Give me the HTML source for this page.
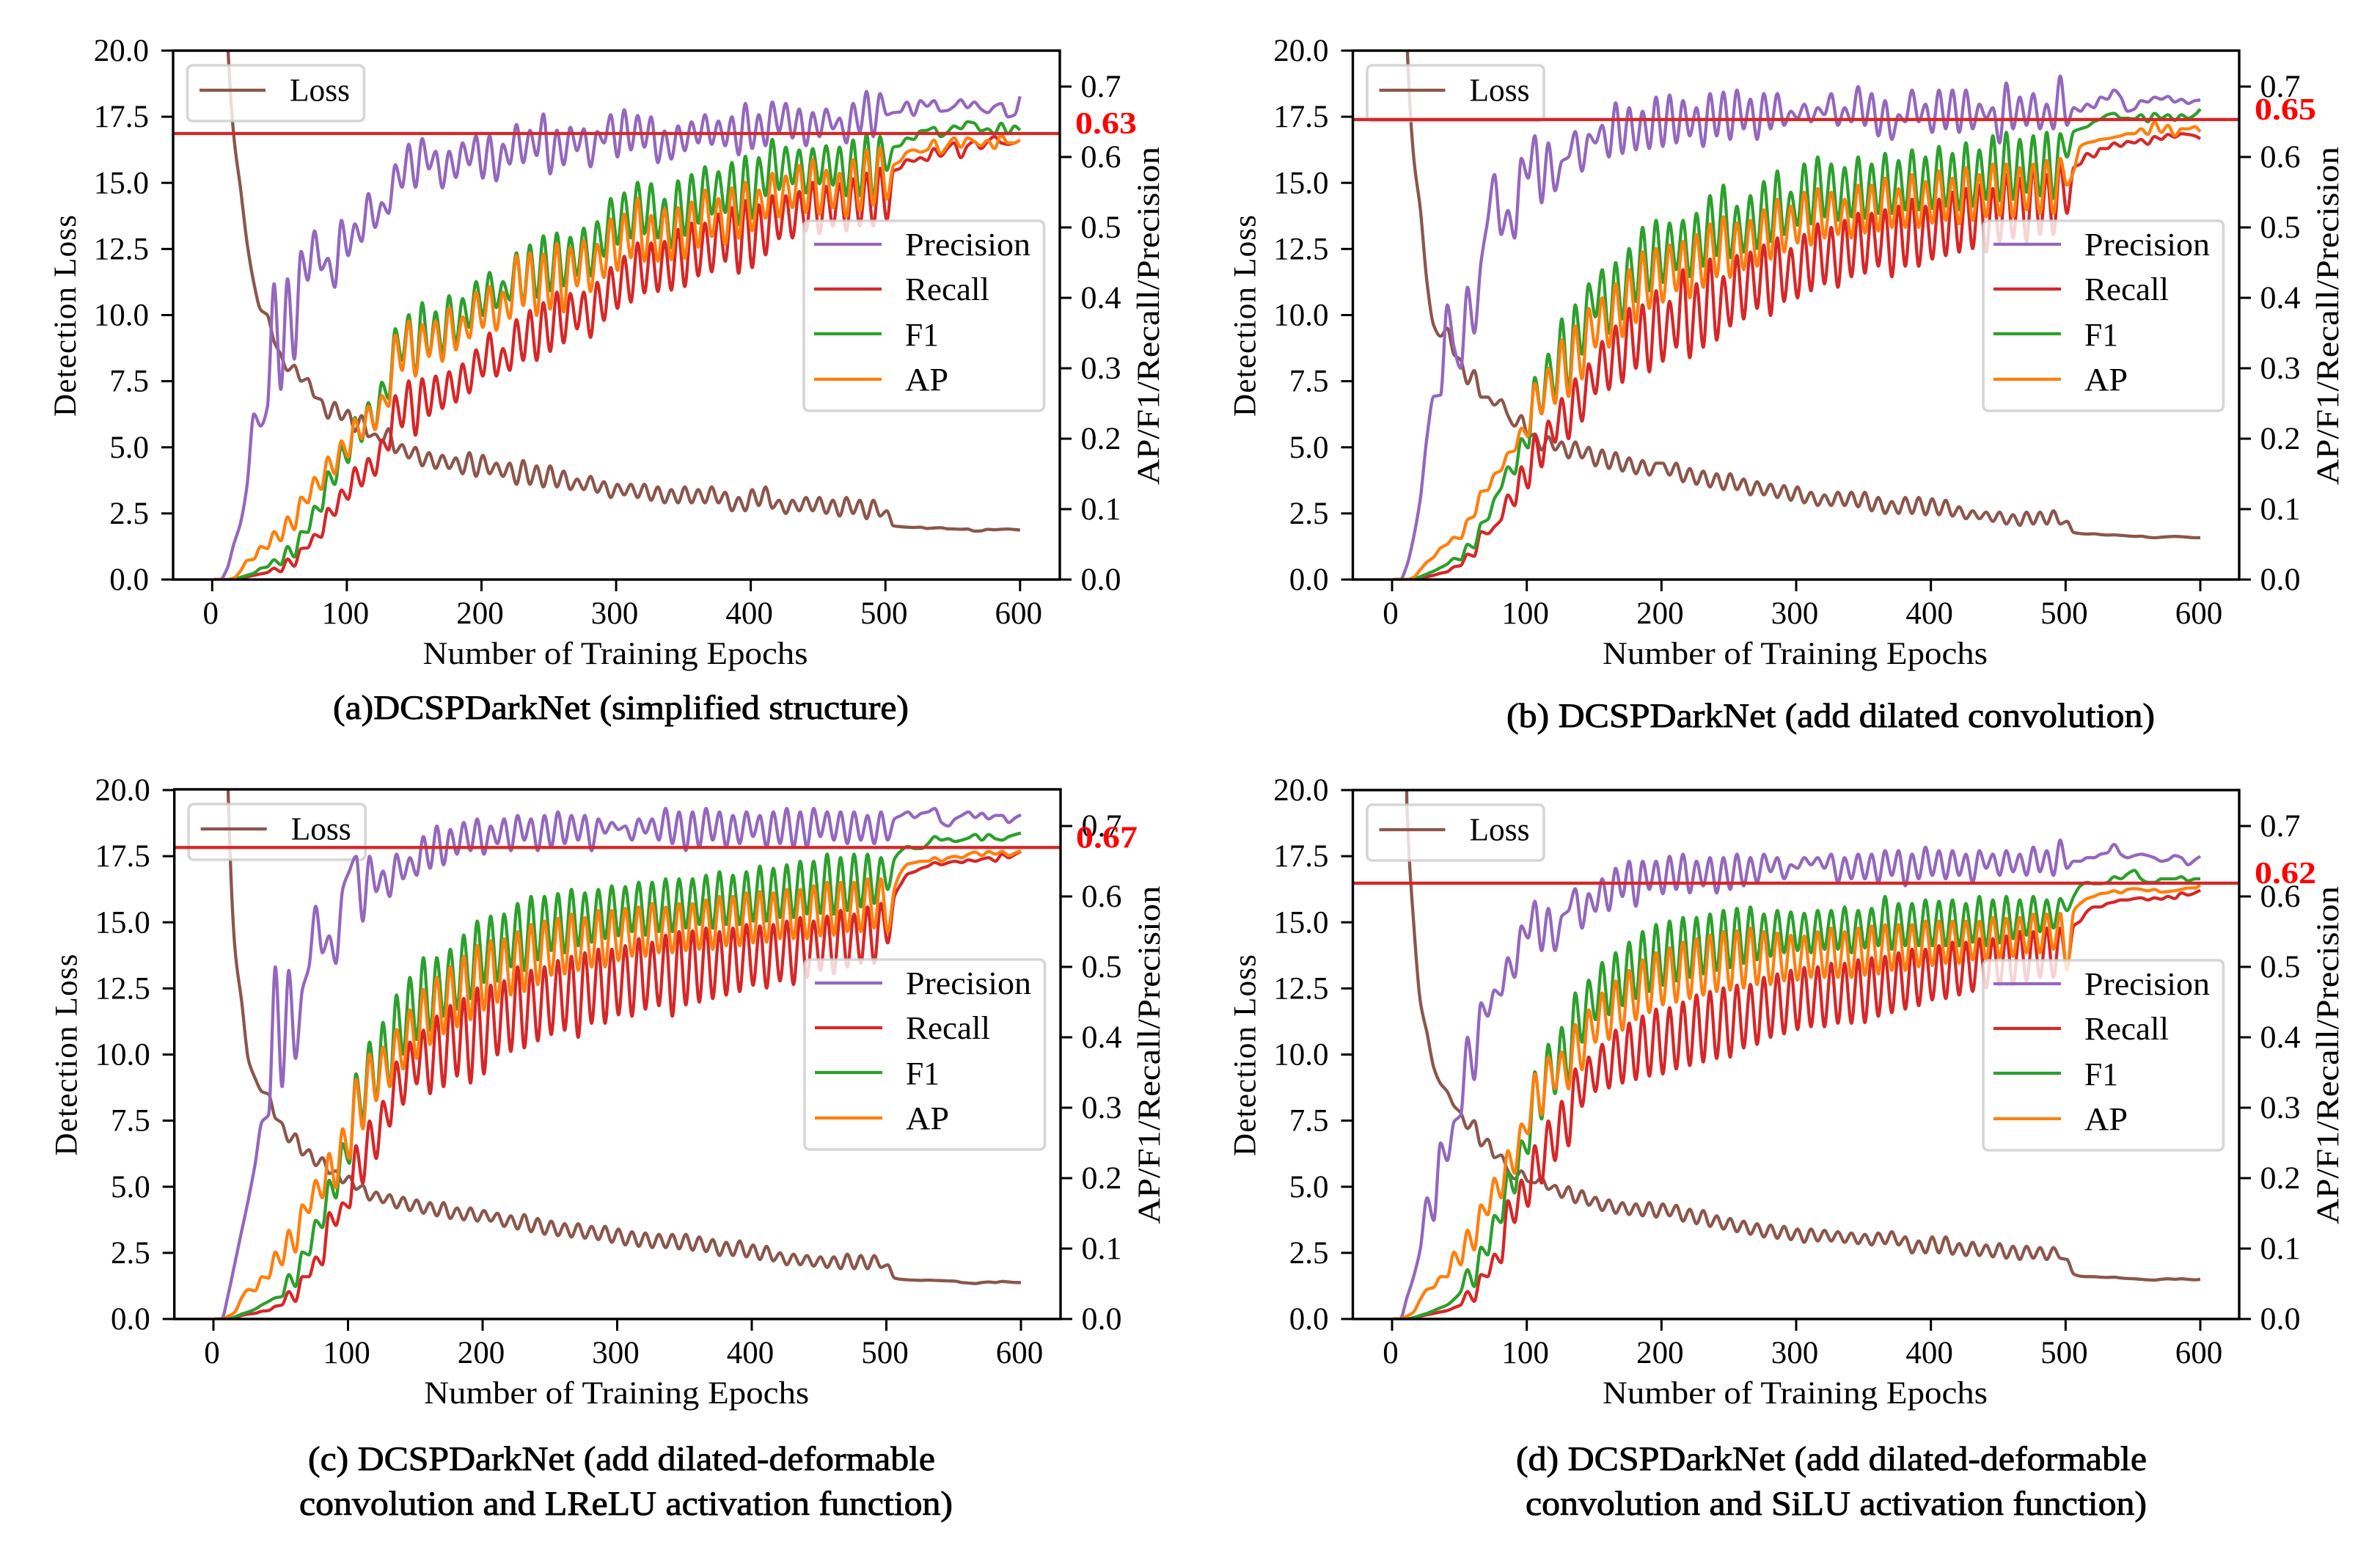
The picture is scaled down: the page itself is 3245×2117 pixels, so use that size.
<!DOCTYPE html>
<html lang="en">
<head>
<meta charset="utf-8">
<title>DCSPDarkNet training curves</title>
<style>
html,body{margin:0;padding:0;background:#fff;width:3245px;height:2117px;overflow:hidden}
svg{display:block}
text{font-family:"Liberation Serif","DejaVu Serif",serif;fill:#000}
</style>
</head>
<body>
<svg id="figure" xmlns="http://www.w3.org/2000/svg" width="3245" height="2117" viewBox="0 0 3245 2117"></svg>
<script>
// Tick labels
const xTicks=[0,100,200,300,400,500,600];
const lossTicks=[0,2.5,5,7.5,10,12.5,15,17.5,20];
const metricTicks=[0,.1,.2,.3,.4,.5,.6,.7];
const metricNames=['Precision','Recall','F1','AP'];

// Panel (a) — sampled at epochs 1,6,11,…,596,600
const precisionA=[0,0,.015,.05,.08,.135,.235,.218,.245,.42,
.27,.427,.313,.466,.425,.495,.44,.456,.415,.51,
.46,.505,.48,.548,.5,.535,.52,.589,.557,.618,
.557,.626,.583,.608,.556,.608,.571,.62,.589,.63,
.57,.63,.566,.618,.59,.646,.592,.638,.602,.661,
.576,.638,.589,.642,.609,.64,.586,.636,.62,.66,
.6,.667,.61,.659,.614,.657,.592,.637,.597,.644,
.609,.65,.62,.66,.618,.651,.616,.657,.603,.676,
.612,.66,.616,.678,.636,.676,.627,.668,.616,.663,
.629,.668,.64,.655,.62,.676,.636,.693,.629,.69,
.66,.663,.664,.678,.659,.68,.672,.68,.665,.666,
.672,.681,.67,.678,.668,.663,.672,.676,.657,.66,
.686];
const recallA=[0,0,0,0,.002,.004,.006,.008,.01,.016,
.011,.029,.019,.044,.045,.064,.06,.101,.091,.127,
.114,.159,.133,.172,.148,.198,.184,.261,.217,.282,
.205,.285,.233,.289,.243,.295,.252,.306,.265,.326,
.289,.35,.289,.328,.297,.369,.311,.382,.311,.393,
.324,.408,.336,.406,.356,.408,.344,.422,.368,.443,
.385,.459,.394,.478,.407,.478,.409,.48,.411,.497,
.416,.506,.431,.506,.437,.519,.452,.528,.435,.538,
.443,.532,.461,.545,.484,.545,.485,.551,.495,.564,
.491,.558,.502,.562,.495,.569,.502,.577,.502,.584,
.51,.58,.584,.596,.594,.599,.595,.612,.601,.612,
.62,.599,.616,.622,.612,.622,.629,.62,.618,.62,
.624];
const f1A=[0,0,0,0,.003,.006,.009,.016,.018,.028,
.021,.047,.032,.068,.067,.104,.097,.153,.135,.189,
.166,.23,.196,.251,.213,.28,.257,.356,.311,.376,
.291,.393,.317,.38,.322,.403,.336,.399,.358,.423,
.375,.436,.386,.423,.397,.464,.393,.475,.401,.488,
.41,.492,.417,.486,.432,.499,.431,.508,.459,.541,
.476,.549,.485,.564,.491,.562,.485,.54,.471,.566,
.489,.575,.506,.586,.519,.579,.521,.592,.504,.601,
.513,.599,.545,.625,.554,.614,.562,.61,.549,.612,
.562,.616,.56,.614,.545,.624,.545,.633,.541,.629,
.581,.614,.616,.627,.625,.637,.638,.642,.629,.635,
.644,.64,.65,.648,.637,.64,.633,.648,.633,.644,
.638];
const apA=[0,0,0,.002,.012,.027,.029,.047,.044,.068,
.055,.089,.071,.117,.109,.145,.128,.174,.15,.197,
.174,.228,.2,.246,.213,.261,.246,.347,.297,.367,
.289,.362,.317,.367,.31,.386,.326,.373,.343,.408,
.358,.416,.354,.408,.371,.46,.389,.464,.375,.462,
.384,.477,.38,.471,.417,.481,.409,.476,.429,.512,
.439,.519,.457,.541,.452,.517,.452,.526,.454,.528,
.456,.536,.472,.553,.487,.541,.476,.556,.485,.564,
.495,.553,.513,.577,.515,.573,.528,.588,.521,.596,
.519,.581,.528,.577,.515,.596,.523,.61,.532,.613,
.54,.588,.594,.607,.61,.607,.61,.624,.605,.616,
.627,.614,.627,.622,.616,.624,.612,.631,.62,.62,
.624];
const lossA=[60,38,21,16.8,14.8,12.7,11.2,10.2,10,9,
8.5,7.9,8.1,7.5,7.6,6.9,6.8,6.1,6.7,6.05,
6.4,5.6,6.2,5.4,5.5,5.2,5.7,4.8,5.1,4.6,
5,4.3,4.8,4.2,4.7,4.2,4.6,4,4.8,3.9,
4.7,4,4.4,3.9,4.4,3.6,4.5,3.6,4.3,3.5,
4.3,3.5,4.1,3.4,3.8,3.4,3.9,3.3,3.7,3.1,
3.6,3.2,3.6,3.1,3.6,3,3.5,2.9,3.4,2.9,
3.5,2.9,3.4,2.9,3.5,2.9,3.3,2.6,3.1,2.6,
3.4,2.8,3.5,2.7,3,2.5,3,2.6,3.1,2.6,
3.1,2.5,3,2.4,3.1,2.5,3,2.3,3,2.4,
2.6,2.03,2,1.98,1.97,1.98,1.93,1.95,1.96,1.92,
1.91,1.9,1.91,1.83,1.84,1.9,1.88,1.9,1.91,1.89,
1.87];

// Panel (b)
const precisionB=[0,0,.02,.06,.115,.204,.26,.262,.39,.33,
.3,.415,.35,.45,.51,.575,.49,.524,.485,.598,
.57,.63,.535,.62,.552,.594,.6,.636,.58,.632,
.62,.645,.6,.677,.605,.67,.61,.665,.612,.685,
.615,.688,.62,.68,.63,.67,.615,.69,.63,.692,
.625,.695,.64,.682,.625,.69,.64,.69,.645,.665,
.655,.675,.65,.67,.66,.69,.645,.67,.65,.7,
.645,.69,.63,.68,.625,.66,.65,.695,.65,.675,
.635,.695,.64,.695,.635,.695,.64,.675,.655,.67,
.62,.705,.64,.685,.645,.69,.64,.675,.64,.715,
.645,.67,.665,.675,.67,.685,.682,.695,.685,.665,
.668,.68,.678,.685,.682,.686,.678,.682,.676,.68,
.681];
const recallB=[0,0,0,0,.002,.004,.006,.009,.011,.018,
.02,.036,.033,.068,.065,.075,.085,.12,.105,.16,
.13,.205,.16,.225,.195,.257,.2,.285,.225,.306,
.264,.338,.27,.36,.28,.385,.3,.39,.295,.41,
.31,.395,.33,.44,.315,.42,.33,.455,.34,.43,
.36,.46,.37,.465,.385,.475,.375,.485,.395,.47,
.4,.49,.41,.505,.42,.5,.415,.51,.43,.52,
.435,.52,.445,.525,.43,.53,.445,.54,.445,.53,
.455,.54,.46,.55,.465,.555,.47,.56,.465,.555,
.48,.575,.485,.57,.48,.585,.49,.575,.49,.59,
.52,.585,.59,.605,.6,.612,.612,.62,.615,.622,
.62,.625,.618,.629,.625,.632,.628,.633,.632,.63,
.626];
const f1B=[0,0,0,.001,.004,.008,.012,.017,.022,.03,
.028,.05,.045,.08,.085,.115,.13,.16,.15,.2,
.187,.287,.236,.32,.26,.37,.27,.39,.32,.42,
.373,.44,.35,.45,.37,.47,.395,.5,.41,.51,
.422,.506,.44,.51,.43,.52,.445,.545,.46,.56,
.457,.53,.465,.545,.47,.565,.48,.58,.49,.55,
.503,.59,.505,.6,.515,.59,.51,.585,.515,.6,
.513,.59,.52,.605,.52,.595,.525,.61,.525,.6,
.527,.615,.53,.605,.525,.62,.53,.61,.54,.63,
.538,.635,.54,.625,.55,.63,.545,.635,.541,.633,
.6,.636,.64,.643,.65,.654,.66,.662,.655,.655,
.654,.66,.65,.662,.655,.66,.652,.66,.655,.66,
.668];
const apB=[0,0,0,.003,.014,.025,.032,.045,.05,.06,
.058,.085,.09,.125,.127,.15,.155,.18,.183,.215,
.204,.278,.235,.3,.25,.34,.26,.36,.285,.385,
.33,.4,.33,.42,.345,.44,.365,.465,.385,.47,
.394,.475,.41,.48,.4,.49,.415,.505,.43,.515,
.429,.506,.44,.51,.445,.525,.455,.54,.465,.53,
.478,.55,.475,.555,.485,.55,.49,.54,.485,.56,
.492,.56,.495,.57,.5,.555,.5,.575,.5,.565,
.506,.58,.51,.57,.505,.585,.51,.575,.515,.59,
.517,.59,.515,.585,.525,.59,.52,.595,.52,.598,
.56,.58,.615,.62,.622,.625,.626,.628,.63,.633,
.633,.64,.632,.65,.635,.645,.63,.64,.64,.643,
.636];
const lossB=[60,38,20.5,16,14,11.2,9.6,9.2,9.5,8.5,
8.3,7.4,7.9,6.9,6.9,6.6,6.8,6.2,5.8,6.2,
5.4,5.5,4.9,5.4,4.9,5.2,4.6,5.2,4.6,5,
4.3,4.9,4.2,4.8,4.1,4.6,4,4.5,3.95,4.4,
4.4,3.95,4.4,3.7,4.2,3.6,4.1,3.5,4,3.4,
4,3.4,3.8,3.2,3.7,3.2,3.6,3.1,3.55,3,
3.5,2.9,3.3,2.8,3.2,2.8,3.3,2.8,3.3,2.75,
3.3,2.6,3.1,2.5,2.95,2.5,3.1,2.5,3.1,2.45,
3.05,2.45,3,2.4,2.75,2.3,2.6,2.3,2.55,2.2,
2.55,2.1,2.45,2.05,2.55,2.1,2.55,2.1,2.6,2.1,
2.2,1.78,1.74,1.72,1.73,1.7,1.68,1.69,1.67,1.65,
1.63,1.64,1.6,1.58,1.6,1.62,1.63,1.62,1.6,1.58,
1.58];

// Panel (c)
const precisionC=[0,0,.035,.08,.125,.17,.22,.28,.29,.5,
.33,.495,.37,.467,.5,.586,.52,.544,.505,.61,
.636,.657,.565,.657,.607,.636,.6,.66,.625,.655,
.63,.685,.64,.7,.645,.695,.66,.705,.665,.71,
.66,.7,.675,.71,.665,.715,.68,.71,.665,.715,
.67,.72,.675,.715,.68,.715,.665,.71,.69,.705,
.695,.7,.68,.71,.69,.71,.68,.725,.675,.72,
.665,.72,.67,.725,.68,.72,.67,.715,.675,.72,
.685,.715,.67,.72,.675,.725,.67,.72,.67,.725,
.685,.72,.68,.72,.675,.72,.68,.715,.675,.72,
.68,.71,.715,.72,.712,.718,.72,.725,.705,.7,
.71,.715,.72,.712,.718,.71,.715,.715,.705,.712,
.716];
const recallC=[0,0,0,.002,.005,.007,.008,.011,.012,.018,
.02,.039,.025,.06,.06,.088,.077,.151,.133,.165,
.158,.246,.193,.281,.228,.309,.274,.365,.305,.393,
.334,.41,.32,.43,.33,.445,.345,.455,.335,.47,
.348,.474,.375,.48,.38,.5,.385,.495,.395,.5,
.404,.509,.41,.515,.4,.52,.42,.525,.42,.525,
.432,.53,.43,.54,.44,.535,.445,.545,.43,.55,
.446,.551,.45,.555,.455,.55,.46,.555,.465,.56,
.474,.558,.47,.56,.48,.565,.475,.57,.485,.565,
.495,.572,.49,.58,.5,.575,.505,.585,.505,.59,
.534,.6,.618,.632,.635,.64,.643,.648,.645,.648,
.65,.648,.652,.65,.653,.655,.65,.66,.655,.66,
.664];
const f1C=[0,0,0,.003,.007,.01,.014,.02,.025,.03,
.032,.063,.046,.095,.091,.14,.13,.197,.172,.249,
.221,.348,.284,.393,.313,.421,.33,.46,.376,.485,
.397,.513,.41,.513,.43,.525,.44,.545,.455,.565,
.478,.572,.48,.575,.5,.59,.495,.6,.51,.6,
.523,.604,.52,.61,.53,.605,.535,.61,.54,.615,
.544,.614,.55,.62,.545,.62,.55,.625,.55,.625,
.555,.625,.56,.63,.555,.635,.56,.63,.56,.635,
.565,.643,.565,.64,.57,.645,.57,.65,.575,.65,
.576,.66,.575,.655,.58,.66,.585,.66,.59,.655,
.61,.653,.665,.671,.668,.668,.675,.685,.68,.682,
.678,.68,.683,.688,.68,.688,.682,.68,.685,.688,
.69];
const apC=[0,0,.004,.01,.03,.042,.04,.06,.058,.095,
.077,.126,.095,.162,.151,.197,.172,.235,.186,.27,
.228,.34,.27,.376,.31,.386,.33,.411,.355,.439,
.37,.468,.39,.485,.405,.5,.415,.515,.425,.53,
.439,.537,.45,.54,.46,.55,.465,.56,.475,.565,
.488,.569,.49,.575,.495,.57,.5,.58,.5,.58,
.509,.583,.515,.585,.515,.59,.52,.585,.52,.59,
.523,.59,.525,.595,.525,.6,.53,.6,.53,.605,
.534,.607,.535,.605,.54,.61,.54,.61,.54,.615,
.544,.62,.545,.62,.55,.62,.55,.625,.555,.625,
.55,.611,.635,.646,.648,.65,.65,.655,.65,.655,
.657,.655,.66,.663,.658,.664,.66,.664,.658,.662,
.665];
const lossC=[60,36,19.8,14,12,9.8,9.1,8.6,8.5,7.6,
7.4,6.7,7,6.2,6.4,5.8,6.1,5.5,5.6,5.15,
5.4,4.9,5.05,4.5,4.8,4.4,4.7,4.2,4.6,4.1,
4.5,4,4.4,3.9,4.4,3.8,4.2,3.75,4.2,3.7,
4.1,3.7,4,3.5,3.9,3.4,3.95,3.3,3.8,3.2,
3.7,3.15,3.6,3.1,3.6,3.05,3.5,3,3.5,2.9,
3.4,2.8,3.3,2.75,3.25,2.7,3.2,2.7,3.2,2.65,
3.2,2.6,3.1,2.55,3,2.4,2.9,2.4,2.95,2.35,
2.8,2.25,2.75,2.2,2.5,2.05,2.45,2.05,2.4,2,
2.35,1.95,2.35,1.9,2.45,1.9,2.4,1.9,2.4,1.95,
2.05,1.55,1.5,1.48,1.47,1.46,1.47,1.46,1.45,1.44,
1.43,1.38,1.36,1.34,1.38,1.4,1.38,1.42,1.4,1.38,
1.38];

// Panel (d)
const precisionD=[0,0,.03,.06,.1,.172,.14,.25,.225,.28,
.29,.4,.34,.449,.43,.467,.46,.513,.485,.558,
.541,.593,.523,.583,.523,.572,.58,.611,.555,.604,
.579,.625,.58,.64,.6,.65,.586,.65,.61,.65,
.604,.657,.61,.66,.605,.65,.615,.655,.605,.655,
.61,.66,.615,.655,.62,.66,.635,.655,.625,.645,
.64,.655,.645,.655,.64,.66,.62,.655,.625,.66,
.625,.66,.62,.665,.63,.665,.615,.66,.625,.67,
.63,.665,.625,.665,.63,.66,.62,.665,.64,.66,
.63,.665,.635,.66,.63,.67,.635,.665,.63,.68,
.64,.65,.65,.655,.655,.66,.662,.674,.66,.655,
.658,.66,.658,.655,.65,.652,.658,.655,.645,.652,
.657];
const recallD=[0,0,0,.002,.004,.006,.008,.01,.012,.016,
.02,.039,.025,.063,.06,.092,.08,.168,.137,.197,
.16,.246,.193,.281,.225,.309,.246,.355,.302,.372,
.323,.39,.328,.41,.335,.42,.34,.43,.345,.44,
.348,.442,.355,.45,.36,.46,.365,.465,.37,.47,
.372,.474,.385,.475,.39,.485,.4,.49,.405,.495,
.411,.499,.415,.5,.415,.505,.42,.505,.42,.51,
.421,.513,.43,.515,.435,.52,.44,.525,.445,.525,
.453,.53,.455,.535,.46,.535,.465,.54,.47,.54,
.474,.544,.475,.55,.48,.55,.485,.555,.485,.555,
.5,.558,.565,.579,.585,.585,.59,.592,.595,.595,
.597,.598,.595,.598,.596,.6,.597,.605,.602,.605,
.609];
const f1D=[0,0,0,.002,.005,.008,.012,.016,.02,.028,
.039,.07,.046,.102,.091,.147,.137,.208,.179,.253,
.235,.351,.284,.39,.32,.414,.337,.463,.393,.481,
.425,.506,.432,.52,.445,.535,.455,.55,.465,.56,
.474,.565,.48,.57,.485,.57,.49,.575,.495,.58,
.499,.583,.505,.585,.51,.575,.515,.58,.52,.578,
.523,.576,.52,.58,.525,.58,.525,.585,.52,.58,
.527,.583,.53,.6,.525,.59,.53,.59,.53,.595,
.53,.593,.53,.595,.53,.59,.535,.6,.53,.595,
.534,.6,.54,.595,.545,.6,.55,.595,.555,.597,
.58,.6,.615,.62,.618,.618,.62,.628,.625,.632,
.637,.625,.62,.62,.625,.625,.625,.628,.622,.625,
.625];
const apD=[0,0,.004,.01,.028,.042,.045,.06,.06,.095,
.077,.126,.098,.162,.148,.2,.172,.239,.207,.277,
.263,.348,.29,.372,.327,.379,.327,.418,.354,.439,
.393,.463,.397,.48,.41,.495,.425,.51,.435,.52,
.446,.527,.45,.535,.455,.54,.46,.545,.465,.55,
.467,.551,.47,.555,.475,.55,.475,.548,.48,.545,
.481,.544,.485,.55,.485,.555,.485,.55,.485,.555,
.488,.558,.49,.56,.495,.56,.495,.56,.5,.565,
.502,.565,.505,.565,.505,.565,.51,.565,.51,.57,
.513,.569,.515,.57,.52,.575,.52,.575,.525,.576,
.495,.579,.59,.597,.6,.604,.605,.608,.605,.61,
.611,.61,.608,.61,.606,.607,.608,.61,.612,.612,
.616];
const lossD=[60,36,19.5,15,12,10.8,9.5,8.9,8.6,8.05,
7.8,7.2,7.5,6.55,6.8,6.1,6.2,5.6,5.3,5.6,
5.2,5.15,5.35,4.9,5.05,4.6,5,4.4,4.85,4.3,
4.6,4.1,4.5,4,4.4,3.95,4.35,3.9,4.4,3.85,
4.35,3.9,4.3,3.7,4.15,3.6,4.1,3.5,3.9,3.4,
3.8,3.3,3.7,3.2,3.6,3.1,3.55,3.05,3.5,3,
3.4,2.9,3.4,2.95,3.35,2.95,3.3,2.9,3.25,2.85,
3.2,2.8,3.25,2.85,3.3,2.8,3.1,2.5,2.95,2.5,
3.1,2.5,3.1,2.45,2.85,2.4,2.9,2.4,2.8,2.35,
2.85,2.3,2.75,2.25,2.75,2.3,2.7,2.25,2.7,2.3,
2.25,1.7,1.62,1.6,1.6,1.58,1.57,1.58,1.55,1.53,
1.52,1.5,1.48,1.47,1.5,1.52,1.5,1.52,1.5,1.48,
1.5];

// Reference line values (right axis) and their printed labels
const bestValues=[.6333,.6532,.6695,.6188];
const bestLabels=['0.63','0.65','0.67','0.62'];

const NS='http://www.w3.org/2000/svg';
const root=document.getElementById('figure');
const LINE_W=4.3;
function make(tag,parent,attrs,txt){
  const n=document.createElementNS(NS,tag);
  for(const k in attrs)n.setAttribute(k,attrs[k]);
  if(txt!==undefined)n.textContent=txt;
  parent.appendChild(n);
  return n;
}
function epochAt(i){return i<120?1+5*i:600;}
function monotonePath(pts){
  const n=pts.length,m=[],s=[];
  for(let i=0;i<n-1;i++)s[i]=(pts[i+1][1]-pts[i][1])/(pts[i+1][0]-pts[i][0]);
  m[0]=s[0];m[n-1]=s[n-2];
  for(let i=1;i<n-1;i++)m[i]=s[i-1]*s[i]<=0?0:2*s[i-1]*s[i]/(s[i-1]+s[i]);
  let d='M'+pts[0][0].toFixed(1)+' '+pts[0][1].toFixed(1);
  for(let i=0;i<n-1;i++){
    const h=(pts[i+1][0]-pts[i][0])/3;
    d+='C'+(pts[i][0]+h).toFixed(1)+' '+(pts[i][1]+m[i]*h).toFixed(1)+' '+(pts[i+1][0]-h).toFixed(1)+' '+(pts[i+1][1]-m[i+1]*h).toFixed(1)+' '+pts[i+1][0].toFixed(1)+' '+pts[i+1][1].toFixed(1);
  }
  return d;
}

const panels=[
 {id:'a',left:236,right:1445,top:69,bottom:790,x0:289.3,x600:1390.8,series:[precisionA,recallA,f1A,apA],loss:lossA,
  caption:[{t:'(a)DCSPDarkNet (simplified structure)',x:454,w:785,y:980}]},
 {id:'b',left:1844.5,right:3053,top:69,bottom:790,x0:1898,x600:3000,series:[precisionB,recallB,f1B,apB],loss:lossB,
  caption:[{t:'(b) DCSPDarkNet (add dilated convolution)',x:2054,w:884,y:991}]},
 {id:'c',left:237.7,right:1446,top:1076,bottom:1798,x0:291,x600:1392,series:[precisionC,recallC,f1C,apC],loss:lossC,
  caption:[{t:'(c) DCSPDarkNet (add dilated-deformable',x:420,w:855,y:2004},{t:'convolution and LReLU activation function)',x:408,w:891,y:2065}]},
 {id:'d',left:1844.5,right:3053,top:1077,bottom:1798,x0:1898,x600:3000,series:[precisionD,recallD,f1D,apD],loss:lossD,
  caption:[{t:'(d) DCSPDarkNet (add dilated-deformable',x:2067,w:860,y:2004},{t:'convolution and SiLU activation function)',x:2080,w:847,y:2065}]}
];
const seriesColors=['#9467bd','#d62728','#2ca02c','#ff7f0e'];
const legendWidths=[171,115,46,59];
const legendLineOffsets=[264,325,386,448];
const legendTextOffsets=[279,340,402,463];

panels.forEach(function(p,pi){
  const xScale=e=>p.x0+(p.x600-p.x0)*e/600;
  const yLoss=v=>p.bottom-36.05*v;
  const yMetric=v=>p.bottom-960*v;

  const g=make('g',root,{});
  
  

  const clip=make('clipPath',g,{id:'clip-'+p.id});
  make('rect',clip,{x:p.left,y:p.top,width:p.right-p.left,height:p.bottom-p.top});

  const plot=make('g',g,{'clip-path':'url(#clip-'+p.id+')'});
  
  

  const lossLine=make('path',plot,{d:monotonePath(p.loss.map((v,i)=>[xScale(epochAt(i)),yLoss(v)])),fill:'none',stroke:'#8c564b','stroke-width':LINE_W,'stroke-linejoin':'round'});
  
  

  // Loss legend
  const lossLegend=make('g',g,{});
  
  
  const lx=p.left+19.5,ly=p.top+20;
  const lossBox=make('rect',lossLegend,{x:lx,y:ly,width:241,height:76,rx:7,fill:'rgba(255,255,255,.8)',stroke:'rgba(204,204,204,.8)','stroke-width':3.6});
  
  
  const lossKey=make('line',lossLegend,{x1:p.left+36,x2:p.left+126,y1:p.top+54,y2:p.top+54,stroke:'#8c564b','stroke-width':LINE_W});
  
  
  const lossLabel=make('text',lossLegend,{x:p.left+159,y:p.top+68.5,'font-size':44,textLength:82,lengthAdjust:'spacingAndGlyphs'},'Loss');
  
  

  // Metric series
  const plot2=make('g',g,{'clip-path':'url(#clip-'+p.id+')'});
  
  
  p.series.forEach(function(vals,si){
    const line=make('path',plot2,{d:monotonePath(vals.map((v,i)=>[xScale(epochAt(i)),yMetric(v)])),fill:'none',stroke:seriesColors[si],'stroke-width':LINE_W,'stroke-linejoin':'round'});
    
    
  });

  // Best-value reference line
  const ry=yMetric(bestValues[pi]);
  const refLine=make('line',g,{x1:p.left,x2:p.right,y1:ry,y2:ry,stroke:'#d62728','stroke-width':4.3});
  
  

  // Metric legend
  const mLegend=make('g',g,{});
  
  
  const mBox=make('rect',mLegend,{x:p.right-349,y:p.top+232,width:327.5,height:259,rx:7,fill:'rgba(255,255,255,.8)',stroke:'rgba(204,204,204,.8)','stroke-width':3.6});
  
  
  metricNames.forEach(function(name,si){
    const key=make('line',mLegend,{x1:p.right-335,x2:p.right-243,y1:p.top+legendLineOffsets[si],y2:p.top+legendLineOffsets[si],stroke:seriesColors[si],'stroke-width':LINE_W});
    
    
    const lab=make('text',mLegend,{x:p.right-211,y:p.top+legendTextOffsets[si],'font-size':44,textLength:legendWidths[si],lengthAdjust:'spacingAndGlyphs'},name);
    
    
  });

  // Axes
  const axes=make('g',g,{});
  
  
  const frame=make('rect',axes,{x:p.left,y:p.top,width:p.right-p.left,height:p.bottom-p.top,fill:'none',stroke:'#000','stroke-width':3.4});
  
  

  xTicks.forEach(function(t){
    const x=xScale(t);
    const tick=make('line',axes,{x1:x,x2:x,y1:p.bottom,y2:p.bottom+16,stroke:'#000','stroke-width':3});
    
    
    const lab=make('text',axes,{x:x-2,y:p.bottom+60,'font-size':43,'text-anchor':'middle'},String(t));
    
    
  });
  lossTicks.forEach(function(t){
    const y=yLoss(t);
    const tick=make('line',axes,{x1:p.left-16,x2:p.left,y1:y,y2:y,stroke:'#000','stroke-width':3});
    
    
    const lab=make('text',axes,{x:p.left-33,y:y+14,'font-size':43,'text-anchor':'end'},t.toFixed(1));
    
    
  });
  metricTicks.forEach(function(t){
    const y=yMetric(t);
    const tick=make('line',axes,{x1:p.right,x2:p.right+16,y1:y,y2:y,stroke:'#000','stroke-width':3});
    
    
    const lab=make('text',axes,{x:p.right+28.5,y:y+14,'font-size':43,textLength:55,lengthAdjust:'spacingAndGlyphs'},t.toFixed(1));
    
    
  });

  const xTitle=make('text',axes,{x:p.left+340.5,y:p.bottom+115,'font-size':43,textLength:525,lengthAdjust:'spacingAndGlyphs'},'Number of Training Epochs');
  
  
  const yMid=(p.top+p.bottom)/2+1;
  const leftTitle=make('text',axes,{x:0,y:0,'font-size':43,textLength:275,lengthAdjust:'spacing',transform:'translate('+(p.left-133)+' '+(yMid+137.5)+') rotate(-90)'},'Detection Loss');
  
  
  const rightTitle=make('text',axes,{x:0,y:0,'font-size':43,textLength:461,lengthAdjust:'spacingAndGlyphs',transform:'translate('+(p.right+135)+' '+(yMid+230.5)+') rotate(-90)'},'AP/F1/Recall/Precision');
  
  

  const best=make('text',g,{x:p.right+21,y:ry,'font-size':42,'font-weight':'bold',textLength:84,lengthAdjust:'spacingAndGlyphs',style:'fill:#ff0000'},bestLabels[pi]);
  
  

  p.caption.forEach(function(c){
    const cap=make('text',g,{x:c.x,y:c.y,'font-size':47,textLength:c.w,lengthAdjust:'spacingAndGlyphs',stroke:'#000','stroke-width':.9},c.t);
    
    
  });
});
</script>
</body>
</html>
